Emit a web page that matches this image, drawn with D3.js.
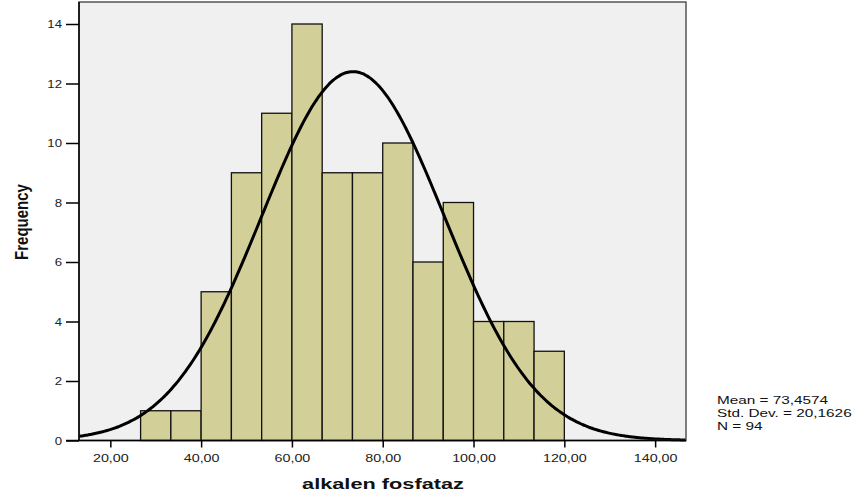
<!DOCTYPE html>
<html><head><meta charset="utf-8">
<script src="https://cdn.jsdelivr.net/npm/d3@7"></script>
<style>body{margin:0;background:#fff;font-family:"Liberation Sans",Arial,sans-serif;}</style>
</head><body>
<svg id="c" width="865" height="500"></svg>
<script>
const binStarts = [26.6667,33.3333,40,46.6667,53.3333,60,66.6667,73.3333,80,86.6667,93.3333,100,106.6667,113.3333];
const binWidth = 6.6667;
const counts = [1,1,5,9,11,14,9,9,10,6,8,4,4,3];
const xTicks = [20,40,60,80,100,120,140];
const yTicks = [0,2,4,6,8,10,12,14];
const stats = {mean:73.4574, sd:20.1626, n:94};
const legendLines = ["Mean = 73,4574","Std. Dev. = 20,1626","N = 94"];

const svg = d3.select("#c");
const L=79, R=686, T=2, B=440.5;
const x = d3.scaleLinear().domain([13.1,146.8]).range([L,R]);
const y = d3.scaleLinear().domain([0,14]).range([B,24]);
const FF = "Liberation Sans, Arial, sans-serif";

svg.append("rect").attr("x",L).attr("y",T).attr("width",R-L).attr("height",B-T)
  .attr("fill","#f0f0f0");

svg.append("g").selectAll("rect").data(counts).join("rect")
  .attr("x",(d,i)=>x(binStarts[i])).attr("y",d=>y(d))
  .attr("width",(d,i)=>x(binStarts[i]+binWidth)-x(binStarts[i]))
  .attr("height",d=>B-y(d))
  .attr("fill","#d3cf99").attr("stroke","#111").attr("stroke-width",1.3);

// normal curve from mean, sd, N
const pdf = v => stats.n*binWidth/(stats.sd*Math.sqrt(2*Math.PI))*Math.exp(-0.5*((v-stats.mean)/stats.sd)**2);
const xs = d3.range(13.1,146.8,0.5).concat([146.8]);
svg.append("path").datum(xs)
  .attr("d",d3.line().x(v=>x(v)).y(v=>y(pdf(v))).curve(d3.curveBasis))
  .attr("fill","none").attr("stroke","#000").attr("stroke-width",3);

// frame
svg.append("rect").attr("x",L).attr("y",T).attr("width",R-L).attr("height",B-T)
  .attr("fill","none").attr("stroke","#555").attr("stroke-width",1.5);
svg.append("line").attr("x1",L).attr("x2",L).attr("y1",T).attr("y2",B).attr("stroke","#000").attr("stroke-width",1.5);

const SX = 1.3;
// y axis
const ya = svg.append("g").attr("transform",`translate(${L},0)`)
  .call(d3.axisLeft(y).tickValues(yTicks).tickSize(13).tickPadding(4).tickFormat(d3.format("d")));
ya.select(".domain").remove();
ya.selectAll("line").attr("stroke","#000").attr("stroke-width",1.5);
ya.selectAll("text").attr("font-family",FF).attr("font-size",11).attr("fill","#222")
  .attr("x",-17/1.2).attr("transform","scale(1.2,1)");

// x axis
const xa = svg.append("g").attr("transform",`translate(0,${B})`)
  .call(d3.axisBottom(x).tickValues(xTicks).tickSize(7).tickPadding(7).tickFormat(d=>d3.format(".2f")(d).replace(".",",")));
xa.select(".domain").remove();
xa.selectAll("line").attr("stroke","#000").attr("stroke-width",1.5);
xa.selectAll("text").attr("font-family",FF).attr("font-size",11).attr("fill","#222")
  .attr("transform",`scale(${SX},1)`);
svg.append("line").attr("x1",66).attr("x2",R).attr("y1",B).attr("y2",B).attr("stroke","#000").attr("stroke-width",1.5);

// labels
svg.append("text").attr("transform","translate(383,489) scale(1.45,1)").attr("text-anchor","middle")
  .attr("font-family",FF).attr("font-weight","bold").attr("font-size",15).attr("fill","#111").text("alkalen fosfataz");
svg.append("text").attr("transform","translate(27.5,222) rotate(-90) scale(1,1.27)").attr("text-anchor","middle")
  .attr("font-family",FF).attr("font-weight","bold").attr("font-size",15).attr("fill","#111").text("Frequency");

svg.append("g").selectAll("text").data(legendLines).join("text")
  .attr("transform",(d,i)=>`translate(717,${404+i*12.8}) scale(1.46,1)`)
  .attr("font-family",FF).attr("font-size",10.5).attr("fill","#111").text(d=>d);
</script>
</body></html>
